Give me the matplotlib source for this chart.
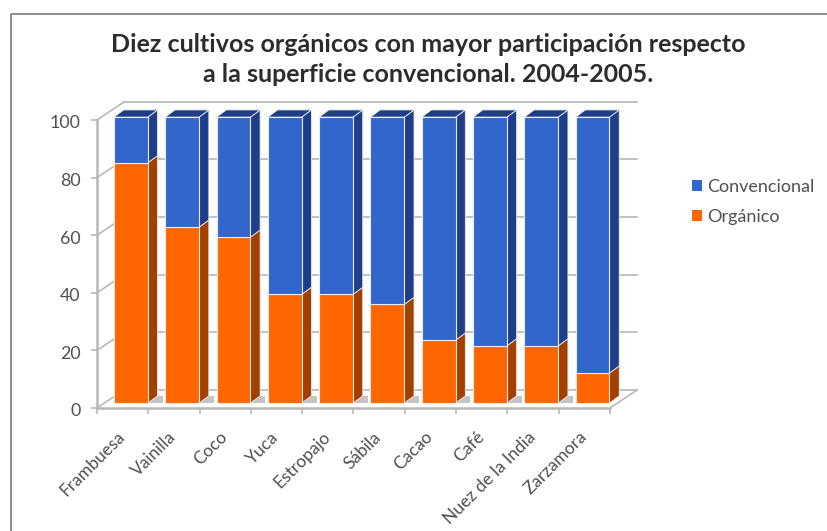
#!/usr/bin/env python3
"""Diez cultivos organicos - stacked bars with an Excel style 3D look."""
import numpy as np
import matplotlib
matplotlib.use('Agg')
import matplotlib.pyplot as plt
from matplotlib.lines import Line2D
from matplotlib.patches import Patch, Polygon
from matplotlib.transforms import ScaledTranslation

plt.rcParams['font.family'] = ['Lato', 'DejaVu Sans']

# Data
CROPS = ['Frambuesa', 'Vainilla', 'Coco', 'Yuca', 'Estropajo', 'Sábila',
         'Cacao', 'Café', 'Nuez de la India', 'Zarzamora']
ORGANICO = [84, 61.5, 58, 38, 38, 34.5, 22, 20, 20, 10.5]
CONVENCIONAL = [16, 38.5, 42, 62, 62, 65.5, 78, 80, 80, 89.5]
Y_TICKS = [0, 20, 40, 60, 80, 100]
TITLE = ('Diez cultivos orgánicos con mayor participación respecto\n'
         'a la superficie convencional. 2004-2005.')

# Colors
ORANGE, ORANGE_DARK = '#FF6600', '#A34000'
BLUE, BLUE_DARK = '#3366CC', '#1E3F88'
AXIS_GRAY = '#B8B8B8'

# Fake 3D geometry, in data units
WALL_X, WALL_Y = 0.53, 6.3     # depth of the chart box
BAR_X, BAR_Y = 0.16, 1.7       # how far bars sit behind the front plane
SIDE_X, SIDE_Y = 0.19, 2.5     # depth of a bar
BAR_W = 0.66
SCALE = 0.993


def side_face(ax, left, low, high, color):
    """Right-hand face of a bar section"""
    right = left + BAR_W
    ax.add_patch(Polygon([(right, low), (right + SIDE_X, low + SIDE_Y),
                          (right + SIDE_X, high + SIDE_Y), (right, high)],
                         facecolor=color, edgecolor='#E8ECF4', linewidth=0.6,
                         zorder=3, clip_on=False))


def draw_box(ax):
    """Walls, floor and grid lines behind the bars"""
    n = len(CROPS)
    for v in Y_TICKS:
        ax.plot([0, WALL_X], [v, v + WALL_Y], color=AXIS_GRAY, lw=1.2,
                clip_on=False, zorder=1)
        ax.plot([WALL_X, n + WALL_X], [v + WALL_Y, v + WALL_Y], color=AXIS_GRAY,
                lw=1.2, clip_on=False, zorder=1)
    ax.plot([n, n + WALL_X], [0, WALL_Y], color=AXIS_GRAY, lw=1.2,
            clip_on=False, zorder=1)
    # floor shadow to the right of each bar
    for i in range(n - 1):
        left = i + (1 - BAR_W) / 2 + BAR_X
        right = left + BAR_W
        ax.add_patch(Polygon([(right, BAR_Y), (right + SIDE_X + 0.1, BAR_Y),
                              (right + SIDE_X + 0.1, BAR_Y + SIDE_Y),
                              (right + SIDE_X, BAR_Y + SIDE_Y)],
                             facecolor='#C4C4C4', edgecolor='none', zorder=2,
                             clip_on=False))


fig = plt.figure(figsize=(8.28, 5.31), dpi=100, facecolor='white')
ax = fig.add_axes([97 / 828, 1 - 408 / 531, 513 / 828, 288 / 531])
ax.set_xlim(0, len(CROPS))
ax.set_ylim(0, 100)

draw_box(ax)

centers = np.arange(len(CROPS)) + 0.5 + BAR_X
org = np.array(ORGANICO) * SCALE
conv = np.array(CONVENCIONAL) * SCALE

ax.bar(centers, org, BAR_W, bottom=BAR_Y, color=ORANGE, edgecolor='#F4E8E0',
       linewidth=0.8, zorder=4, clip_on=False)
ax.bar(centers, conv, BAR_W, bottom=BAR_Y + org, color=BLUE, edgecolor='#E8ECF4',
       linewidth=0.8, zorder=4, clip_on=False)

for c, o, k in zip(centers, org, conv):
    left = c - BAR_W / 2
    side_face(ax, left, BAR_Y, BAR_Y + o, ORANGE_DARK)
    side_face(ax, left, BAR_Y + o, BAR_Y + o + k, BLUE_DARK)
    top = BAR_Y + o + k
    ax.add_patch(Polygon([(left, top), (left + BAR_W, top),
                          (left + BAR_W + SIDE_X, top + SIDE_Y),
                          (left + SIDE_X, top + SIDE_Y)],
                         facecolor=BLUE_DARK, edgecolor='#E8ECF4', linewidth=0.6,
                         zorder=3, clip_on=False))

# Axes
for name in ['top', 'right']:
    ax.spines[name].set_visible(False)
for name in ['left', 'bottom']:
    ax.spines[name].set_color(AXIS_GRAY)
    ax.spines[name].set_linewidth(1.8)
ax.patch.set_alpha(0)

ax.set_yticks(Y_TICKS)
ax.tick_params(axis='y', length=4, width=1.2, color=AXIS_GRAY, labelsize=12.8,
               labelcolor='#505050', pad=8)
ax.set_xticks(np.arange(len(CROPS)) + 0.5)
ax.set_xticklabels(CROPS, rotation=45, ha='right', rotation_mode='anchor',
                   fontsize=12.5, color='#505050')
ax.set_xticks(np.arange(len(CROPS) + 1), minor=True)
ax.tick_params(axis='x', which='major', length=0, pad=15)
ax.tick_params(axis='x', which='minor', length=4, width=1.2, color=AXIS_GRAY)
# labels sit a little left of the category centre
nudge = ScaledTranslation(-6 / 100, 0, fig.dpi_scale_trans)
for label in ax.get_xticklabels():
    label.set_transform(label.get_transform() + nudge)
# y labels a touch lower than the tick
nudge_y = ScaledTranslation(0, -2 / 100, fig.dpi_scale_trans)
for label in ax.get_yticklabels():
    label.set_transform(label.get_transform() + nudge_y)

# Title and legend
fig.text(428 / 828, 1 - 59.5 / 531, TITLE, ha='center', va='center',
         multialignment='center', fontsize=18, fontweight='bold',
         color='#2C2C2C', linespacing=1.32)
handles = [Patch(facecolor=BLUE, label='Convencional'),
           Patch(facecolor=ORANGE, label='Orgánico')]
fig.legend(handles=handles, loc='center left',
           bbox_to_anchor=(692 / 828, 1 - 202 / 531), frameon=False, fontsize=13,
           labelcolor='#505050', handlelength=0.55, handleheight=0.55,
           handletextpad=0.3, labelspacing=0.75, borderpad=0, borderaxespad=0)

# Chart frame, cut by the image edges
fig.add_artist(Line2D([11 / 828, 11 / 828, 1], [0, 1 - 14 / 531, 1 - 14 / 531],
                      color='#8C8C8C', lw=1.4))

fig.savefig('out.png', dpi=100, facecolor='white')
plt.close(fig)
